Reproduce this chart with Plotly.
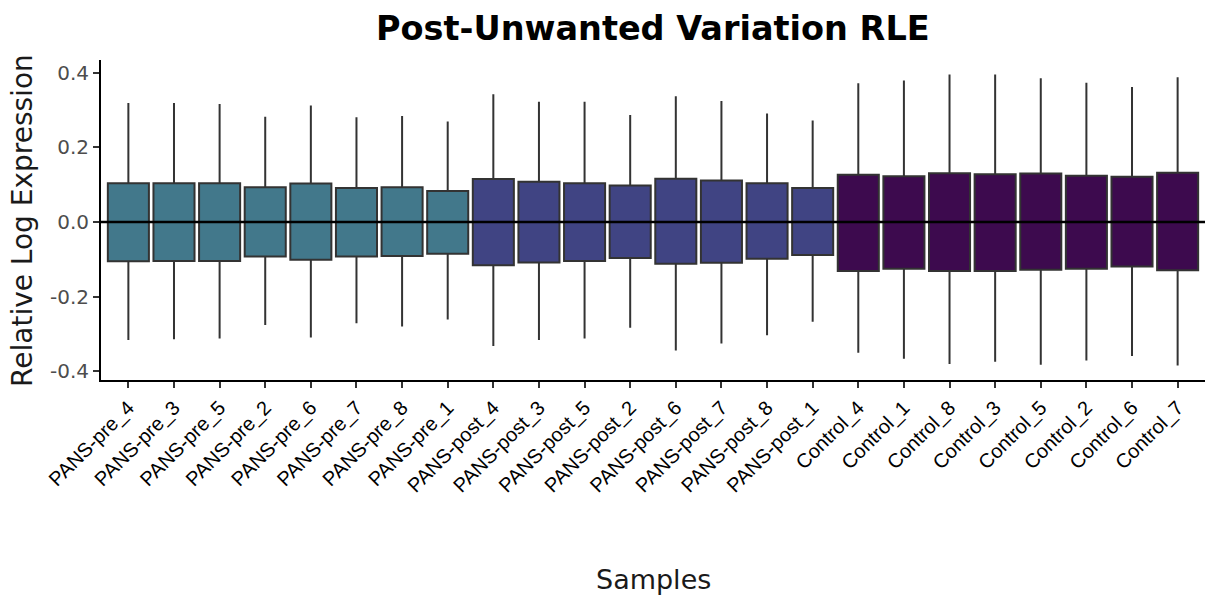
import plotly.graph_objects as go

pre_samples = ["PANS-pre_4", "PANS-pre_3", "PANS-pre_5", "PANS-pre_2", "PANS-pre_6", "PANS-pre_7", "PANS-pre_8", "PANS-pre_1"]
pre_low = [-0.316, -0.314, -0.312, -0.276, -0.309, -0.271, -0.280, -0.261]
pre_q1 = [-0.105, -0.104, -0.104, -0.092, -0.101, -0.092, -0.091, -0.085]
pre_med = [0.0, 0.0, 0.0, 0.0, 0.0, 0.0, 0.0, 0.0]
pre_q3 = [0.104, 0.104, 0.104, 0.093, 0.103, 0.091, 0.093, 0.083]
pre_high = [0.319, 0.319, 0.316, 0.282, 0.312, 0.281, 0.284, 0.269]

post_samples = ["PANS-post_4", "PANS-post_3", "PANS-post_5", "PANS-post_2", "PANS-post_6", "PANS-post_7", "PANS-post_8", "PANS-post_1"]
post_low = [-0.332, -0.316, -0.312, -0.283, -0.344, -0.325, -0.303, -0.267]
post_q1 = [-0.116, -0.108, -0.104, -0.096, -0.112, -0.109, -0.098, -0.088]
post_med = [0.0, 0.0, 0.0, 0.0, 0.0, 0.0, 0.0, 0.0]
post_q3 = [0.115, 0.108, 0.104, 0.098, 0.116, 0.111, 0.104, 0.091]
post_high = [0.342, 0.322, 0.322, 0.287, 0.337, 0.324, 0.291, 0.272]

ctrl_samples = ["Control_4", "Control_1", "Control_8", "Control_3", "Control_5", "Control_2", "Control_6", "Control_7"]
ctrl_low = [-0.350, -0.366, -0.380, -0.374, -0.382, -0.371, -0.359, -0.384]
ctrl_q1 = [-0.131, -0.125, -0.131, -0.131, -0.128, -0.125, -0.119, -0.129]
ctrl_med = [0.0, 0.0, 0.0, 0.0, 0.0, 0.0, 0.0, 0.0]
ctrl_q3 = [0.127, 0.123, 0.131, 0.128, 0.130, 0.124, 0.121, 0.132]
ctrl_high = [0.372, 0.379, 0.395, 0.395, 0.385, 0.373, 0.362, 0.388]

y_ticks = [-0.4, -0.2, 0.0, 0.2, 0.4]
y_tick_text = ["-0.4", "-0.2", "0.0", "0.2", "0.4"]

groups = [
    (pre_samples, pre_low, pre_q1, pre_med, pre_q3, pre_high, "#42788b"),
    (post_samples, post_low, post_q1, post_med, post_q3, post_high, "#404483"),
    (ctrl_samples, ctrl_low, ctrl_q1, ctrl_med, ctrl_q3, ctrl_high, "#3d0a4e"),
]

fig = go.Figure()
for s, lo, q1, md, q3, hi, col in groups:
    fig.add_trace(go.Box(
        x=s, lowerfence=lo, q1=q1, median=md, q3=q3, upperfence=hi,
        fillcolor=col, line=dict(color="#333333", width=2),
        whiskerwidth=0, width=0.9, showlegend=False, boxpoints=False,
    ))

all_samples = pre_samples + post_samples + ctrl_samples

fig.add_shape(type="line", xref="paper", yref="y", x0=0, x1=1, y0=0, y1=0,
              line=dict(color="black", width=2.5))

fig.update_layout(
    width=1208, height=598,
    margin=dict(l=101, r=3, t=60, b=218, pad=0),
    plot_bgcolor="white", paper_bgcolor="white",
    boxmode="overlay",
    showlegend=False,
    xaxis=dict(
        type="category", categoryorder="array", categoryarray=all_samples,
        range=[-0.6, 23.6], showline=True, linecolor="black", linewidth=2,
        ticks="outside", ticklen=6, tickcolor="#333333", tickwidth=1.5,
        tickangle=-45, tickfont=dict(family="Liberation Sans", size=20, color="black"),
        showgrid=False, zeroline=False,
    ),
    yaxis=dict(
        range=[-0.423, 0.434], tickvals=y_ticks, ticktext=y_tick_text,
        showline=True, linecolor="black", linewidth=2,
        ticks="outside", ticklen=6, tickcolor="#333333", tickwidth=1.5,
        tickfont=dict(family="DejaVu Sans", size=20, color="#4d4d4d"),
        showgrid=False, zeroline=False,
    ),
    annotations=[
        dict(text="<b>Post-Unwanted Variation RLE</b>", xref="paper", yref="paper",
             x=0.5, y=1.097, xanchor="center", yanchor="middle", showarrow=False,
             font=dict(family="DejaVu Sans", size=33.5, color="black")),
        dict(text="Samples", xref="paper", yref="paper", x=0.5, y=-0.622,
             xanchor="center", yanchor="middle", showarrow=False,
             font=dict(family="DejaVu Sans", size=27, color="#1a1a1a")),
        dict(text="Relative Log Expression", xref="paper", yref="paper", x=-0.0716, y=0.5,
             xanchor="center", yanchor="middle", showarrow=False, textangle=-90,
             font=dict(family="DejaVu Sans", size=28, color="#1a1a1a")),
    ],
)

fig.write_html("out.html")
